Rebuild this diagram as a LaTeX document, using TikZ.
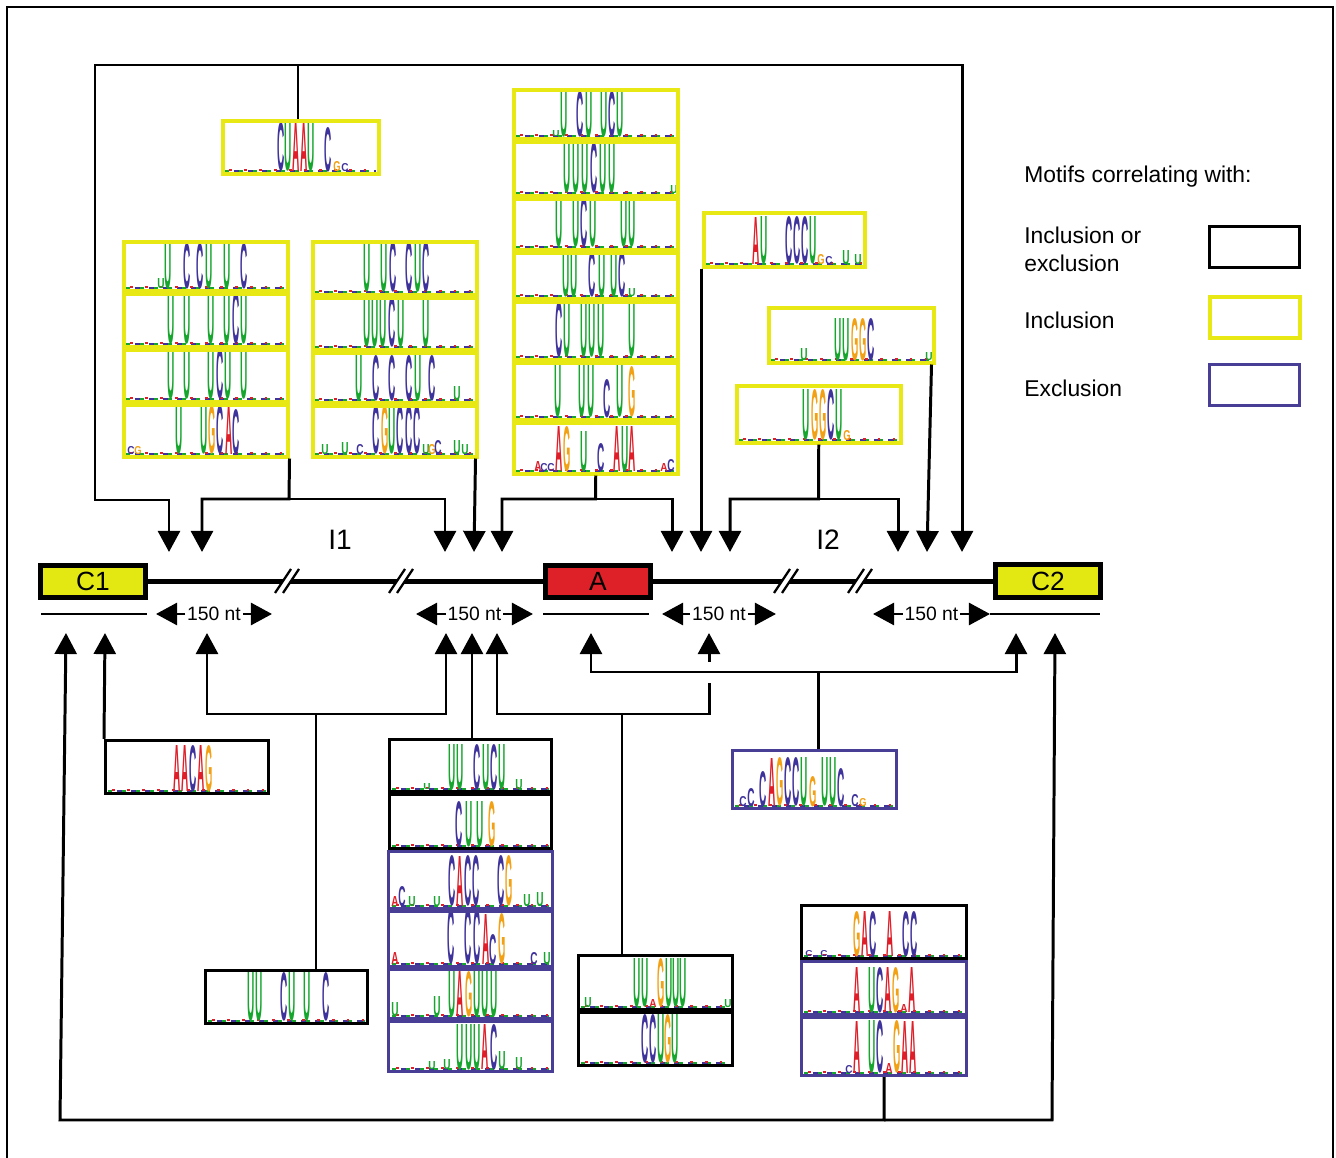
\documentclass[tikz,border=0pt]{standalone}
\usepackage{fontspec}
\setmainfont{Liberation Sans}
\usetikzlibrary{arrows.meta,calc}

%% colours of the figure
\definecolor{exonyel}{RGB}{228,232,18}
\definecolor{exonred}{RGB}{222,32,40}
\definecolor{frameyel}{RGB}{232,232,20}
\definecolor{framepur}{RGB}{72,62,150}
\definecolor{ntA}{RGB}{222,30,40}
\definecolor{ntC}{RGB}{62,50,155}
\definecolor{ntG}{RGB}{242,160,20}
\definecolor{ntU}{RGB}{22,165,45}

%% one letter of a logo: x, baseline, letter, height (px)
\newcommand{\ntletter}[4]{%
  \pgfmathsetlengthmacro{\nth}{#4*0.02cm}%
  \node[inner sep=0pt,anchor=south west] at (#1,#2)
    {\textcolor{nt#3}{\resizebox{0.145cm}{\nth}{\bfseries #3}}};}

%% a logo: left x, baseline, width, list dx/letter/height
\newcommand{\seqlogo}[4]{%
  \draw[ntU,line width=0.8pt,dash pattern=on 2pt off 6pt] (#1+4,#2-1) -- (#1+#3-4,#2-1);
  \draw[ntC,line width=0.8pt,dash pattern=on 3pt off 5pt,dash phase=3pt] (#1+4,#2-1) -- (#1+#3-4,#2-1);
  \draw[ntA,line width=0.6pt,dash pattern=on 1.5pt off 7pt,dash phase=6pt] (#1+4,#2-2) -- (#1+#3-4,#2-2);
  \foreach \dx/\ltr/\hh in {#4}{\ntletter{#1+\dx}{#2}{\ltr}{\hh}}}

\begin{document}
\begin{tikzpicture}[x=0.02cm,y=-0.02cm,
  mbox/.style 2 args={minimum width=(#1-3)*0.02cm,minimum height=(#2-3)*0.02cm,
    inner sep=0pt,anchor=north west},
  incl/.style={draw=frameyel,line width=2pt},
  excl/.style={draw=framepur,line width=1.8pt},
  both/.style={draw=black,line width=1.8pt},
  link/.style={line width=1.7pt},
  tip/.style={-{Triangle[width=12.5pt,length=12pt]}},
  exon/.style={draw,line width=2.8pt,font=\fontsize{15pt}{17pt}\selectfont},
  gene/.style={line width=2.8pt},
  ntlabel/.style={inner sep=1pt,font=\fontsize{11pt}{13pt}\selectfont},
  legend/.style={anchor=west,align=left,inner sep=0pt,
    font=\fontsize{13pt}{16pt}\selectfont}]

\useasboundingbox (0,0) rectangle (1336,1158);
\draw[line width=0.6pt] (7,1158) -- (7,7) -- (1333,7) -- (1333,1158);

%%% logos above the gene
\seqlogo{221}{172}{159}{56/C/48,63.5/U/48,71/A/48,79/A/48,86.5/U/48,103/C/44,112/G/10,120/C/8}
% left stack
\seqlogo{122}{289}{167}{35/U/10,42/U/45,61/C/45,74/C/45,83/U/45,101/U/45,118/C/45}
\seqlogo{122}{345}{167}{45/U/52,61/U/52,85/U/52,101/U/52,110/C/52,118/U/52}
\seqlogo{122}{400}{167}{45/U/50,61/U/50,85/U/50,94/C/50,102/U/50,118/U/50}
\seqlogo{122}{455}{167}{5/C/8,12/G/8,53/U/48,78/U/48,86/G/48,94/C/48,103/A/48,110/C/45}
% right stack
\seqlogo{311}{293}{167}{52/U/50,69/U/50,78/C/50,94/C/50,103/U/50,111/C/50}
\seqlogo{311}{348}{167}{52/U/50,60/U/50,68/U/50,77/C/50,86/U/50,111/U/50}
\seqlogo{311}{401}{167}{44/U/45,61/C/45,77/C/45,94/C/45,103/U/45,117/C/45,142/U/14}
\seqlogo{311}{455}{167}{10/U/10,30/U/12,45/C/10,61/C/48,70/G/48,77/U/48,85/C/48,94/C/48,102/C/48,111/U/10,117/G/10,123/C/14,142/U/14,150/U/10}
% middle stack
\seqlogo{512}{137}{167}{40/U/6,48/U/45,64/C/45,73/U/45,88/U/45,96/C/45,104/U/45}
\seqlogo{512}{194}{167}{51/U/50,60/U/50,69/U/50,78/C/50,87/U/50,96/U/50,158/U/8}
\seqlogo{512}{248}{167}{43/U/50,60/U/50,68/C/50,77/U/50,108/U/50,116/U/50}
\seqlogo{512}{297}{167}{50/U/45,58/U/45,76/C/45,86/U/45,98/U/45,106/C/45,116/U/8}
\seqlogo{512}{358}{167}{43/C/55,51/U/55,68/U/55,76/U/55,85/U/55,116/U/55}
\seqlogo{512}{418}{167}{42/U/55,66/U/55,75/U/55,91/C/38,104/U/55,116/G/50}
\seqlogo{512}{472}{167}{22/A/10,28/C/8,35/C/8,43/A/45,51/G/45,68/U/40,85/C/28,101/A/45,109/U/45,116/A/45,148/A/8,155/C/12}
% single boxes right
\seqlogo{702}{265}{164}{50/A/47,58/U/47,83/C/47,91/C/47,99/C/47,107/U/47,115/G/10,123/C/8,140/U/14,152/U/10}
\seqlogo{767}{361}{168}{33/U/12,67/U/42,75/U/42,84/G/42,92/G/42,100/C/42,158/U/8}
\seqlogo{735}{441}{167}{67/U/50,76/G/50,84/G/50,92/C/50,100/U/50,108/G/10}

%%% logos below the gene
\seqlogo{104}{792}{166}{69/A/46,77/A/46,85/C/46,93/A/46,101/G/46}
\seqlogo{204}{1022}{165}{43/U/48,51/U/48,76/C/48,84/U/48,99/U/48,118/C/48}
% middle stack
\seqlogo{388}{790}{165}{35/U/6,60/U/45,68/U/45,85/C/45,94/U/45,102/C/45,110/U/45,127/U/10}
\seqlogo{388}{847}{165}{67/C/45,77/U/45,88/U/45,100/G/45}
\seqlogo{388}{907}{165}{3/A/10,10/C/20,20/U/10,45/U/10,60/C/50,68/A/50,76/C/50,84/C/50,109/C/50,117/G/50,135/U/12,148/U/14}
\seqlogo{388}{965}{165}{3/A/12,59/C/55,76/C/55,85/C/55,94/A/50,101/C/30,110/G/50,142/C/12,155/U/12}
\seqlogo{388}{1017}{165}{3/U/14,45/U/20,60/U/45,68/A/45,77/G/45,85/U/45,93/U/45,102/U/45}
\seqlogo{388}{1070}{165}{40/U/8,55/U/10,68/U/45,77/U/45,85/U/45,93/A/45,102/C/45,110/U/18,127/U/12}
% right of middle
\seqlogo{577}{1008}{157}{7/U/10,56/U/48,64/U/48,72/A/8,80/G/48,88/U/48,95/U/48,102/U/48,147/U/8}
\seqlogo{577}{1064}{157}{64/C/48,72/C/48,80/U/48,87/G/48,94/U/48}
\seqlogo{731}{807}{167}{8/C/10,16/C/18,28/C/35,37/A/48,45/G/48,53/C/48,61/C/48,69/U/48,78/G/30,90/U/48,98/U/48,106/C/38,120/C/12,128/G/8}
% right stack
\seqlogo{800}{957}{168}{5/C/6,20/C/6,53/G/45,61/A/45,69/C/45,86/A/45,102/C/45,110/C/45}
\seqlogo{800}{1013}{168}{53/A/45,68/U/45,76/C/45,84/A/45,92/G/45,100/A/8,108/A/45}
\seqlogo{800}{1074}{168}{45/C/8,53/A/52,68/U/52,76/C/52,85/A/10,93/G/52,101/A/52,109/A/52}

%%% frames of the logos
\node[incl,mbox={159}{56}] (CUAAU) at (221,119) {};
\node[incl,mbox={167}{52}] (L1) at (122,240) {};
\node[incl,mbox={167}{56}] (L2) at (122,292) {};
\node[incl,mbox={167}{55}] (L3) at (122,348) {};
\node[incl,mbox={167}{55}] (L4) at (122,403) {};
\node[incl,mbox={167}{56}] (R1) at (311,240) {};
\node[incl,mbox={167}{55}] (R2) at (311,296) {};
\node[incl,mbox={167}{53}] (R3) at (311,351) {};
\node[incl,mbox={167}{54}] (R4) at (311,404) {};
\node[incl,mbox={167}{52}] (M1) at (512,88) {};
\node[incl,mbox={167}{57}] (M2) at (512,140) {};
\node[incl,mbox={167}{54}] (M3) at (512,197) {};
\node[incl,mbox={167}{49}] (M4) at (512,251) {};
\node[incl,mbox={167}{61}] (M5) at (512,300) {};
\node[incl,mbox={167}{60}] (M6) at (512,361) {};
\node[incl,mbox={167}{54}] (M7) at (512,421) {};
\node[incl,mbox={164}{57}] (AUC) at (702,211) {};
\node[incl,mbox={168}{58}] (UUGGC) at (767,306) {};
\node[incl,mbox={167}{60}] (UGGCU) at (735,384) {};

\node[both,mbox={166}{56}] (AACAG) at (104,739) {};
\node[both,mbox={165}{56}] (UUCUUC) at (204,969) {};
\node[both,mbox={165}{55}] (S1) at (388,738) {};
\node[both,mbox={165}{57}] (S2) at (388,793) {};
\node[excl,mbox={167}{60}] (S3) at (387,850) {};
\node[excl,mbox={167}{58}] (S4) at (387,910) {};
\node[excl,mbox={167}{52}] (S5) at (387,968) {};
\node[excl,mbox={167}{53}] (S6) at (387,1020) {};
\node[both,mbox={157}{57}] (W1) at (577,954) {};
\node[both,mbox={157}{56}] (W2) at (577,1011) {};
\node[excl,mbox={167}{61}] (CAG) at (731,749) {};
\node[both,mbox={168}{56}] (G1) at (800,904) {};
\node[excl,mbox={168}{56}] (G2) at (800,960) {};
\node[excl,mbox={168}{61}] (G3) at (800,1016) {};

%%% the gene
\node[exon,fill=exonyel,mbox={108}{35}] (C1) at (38,563) {C1};
\node[exon,fill=exonred,mbox={108}{35}] (A) at (543,563) {A};
\node[exon,fill=exonyel,mbox={108}{36}] (C2) at (993,562) {C2};
\draw[gene] (C1.east) -- (A.west);
\draw[gene] (A.east) -- (A.east -| C2.west);
% breaks in the introns
\foreach \bx in {287,401,786,860}{
  \fill[white] (\bx-12,593) -- (\bx-4,593) -- (\bx+12,569) -- (\bx+4,569) -- cycle;
  \draw[line width=1.3pt] (\bx-12,593) -- (\bx+4,569);
  \draw[line width=1.3pt] (\bx-4,593) -- (\bx+12,569);
}
\node[font=\fontsize{16pt}{18pt}\selectfont] (I1) at (340,540) {I1};
\node[font=\fontsize{16pt}{18pt}\selectfont] (I2) at (828,540) {I2};

% exon underlines and 150 nt spans
\draw[link] (41,614) -- (147,614);
\draw[link] (543,614) -- (649,614);
\draw[link] (990,614) -- (1100,614);
\node[ntlabel] (s1) at (214,614) {150 nt};
\node[ntlabel] (s2) at (474.5,614) {150 nt};
\node[ntlabel] (s3) at (719,614) {150 nt};
\node[ntlabel] (s4) at (931.5,614) {150 nt};
\coordinate (s1l) at (156,614); \coordinate (s1r) at (272,614);
\coordinate (s2l) at (416,614); \coordinate (s2r) at (533,614);
\coordinate (s3l) at (662,614); \coordinate (s3r) at (776,614);
\coordinate (s4l) at (873,614); \coordinate (s4r) at (990,614);
\foreach \s in {s1,s2,s3,s4}{
  \draw[link,tip] (\s) -- (\s l);
  \draw[link,tip] (\s) -- (\s r);
}

%% arrow tips on the gene, from above
\coordinate (d1) at (169,552); \coordinate (d2) at (202,552);
\coordinate (d3) at (445,552); \coordinate (d4) at (474,552);
\coordinate (d5) at (502,552); \coordinate (d6) at (672,552);
\coordinate (d7) at (701,552); \coordinate (d8) at (730,552);
\coordinate (d9) at (898,552); \coordinate (d10) at (927,552);
\coordinate (d11) at (962,552);
%% arrow tips on the gene, from below
\coordinate (u1) at (66,633); \coordinate (u2) at (105,633);
\coordinate (u3) at (207,633); \coordinate (u4) at (446,633);
\coordinate (u5) at (472,633); \coordinate (u6) at (497,633);
\coordinate (u7) at (591,633); \coordinate (u8) at (709,633);
\coordinate (u9) at (1016,633); \coordinate (u10) at (1055,633);

%% connectors from above
\coordinate (jT) at (298,65);
\coordinate (topL) at (95,65); \coordinate (topR) at (962,65);
\draw[link] (jT |- CUAAU.north) -- (jT);
\draw[link,tip] (jT) -- (topL) -- (95,500) -| (d1);
\draw[link,tip] (jT) -- (topR) -- (d11);
\coordinate (jL) at (289,499);
\draw[link,tip] (L4.south east) -- (jL) -| (d2);
\draw[link,tip] (jL) -| (d3);
\draw[link,tip] ($(R4.south east)+(-3,0)$) -- (d4);
\coordinate (jM) at (595.5,499);
\draw[link,tip] (M7.south) -- (jM) -| (d5);
\draw[link,tip] (jM) -| (d6);
\draw[link,tip] (d7 |- AUC.south) -- (d7);
\coordinate (jU) at (818.5,499);
\draw[link,tip] (UGGCU.south) -- (jU) -| (d8);
\draw[link,tip] (jU) -| (d9);
\draw[link,tip] ($(UUGGC.south east)+(-4,0)$) -- (d10);

%% connectors from below
\coordinate (botL) at (60,1120); \coordinate (botR) at (1052,1120);
\draw[link,tip] (G3.south) |- (botL) -- (u1);
\draw[link,tip] (G3.south |- botR) -- (botR) -- (u10);
\draw[link,tip] (AACAG.north west) -- (u2);
\coordinate (jB) at (316,714);
\draw[link,tip] (jB |- UUCUUC.north) -- (jB) -| (u3);
\draw[link,tip] (jB) -| (u4);
\draw[link,tip] (u5 |- S1.north) -- (u5);
\coordinate (jC) at (622,714);
\coordinate (hopA) at (709,683); \coordinate (hopB) at (709,662);
\draw[link,tip] (jC |- W1.north) -- (jC) -| (u6);
\draw[link] (jC) -| (hopA);
\draw[link,tip] (hopB) -- (u8);
\coordinate (jD) at (818,672);
\draw[link,tip] (jD |- CAG.north) -- (jD) -| (u7);
\draw[link,tip] (jD) -| (u9);

%%% legend
\node[legend] (lgtitle) at (1024,177) {Motifs correlating with:};
\node[legend] (lgboth) at (1024,249) {Inclusion or\\exclusion};
\node[legend] (lgincl) at (1024,320) {Inclusion};
\node[legend] (lgexcl) at (1024,388) {Exclusion};
\node[both,mbox={93}{44}] (kboth) at (1208,225) {};
\node[incl,mbox={93}{44}] (kincl) at (1208,295) {};
\node[excl,mbox={93}{44}] (kexcl) at (1208,363) {};
\end{tikzpicture}
\end{document}
